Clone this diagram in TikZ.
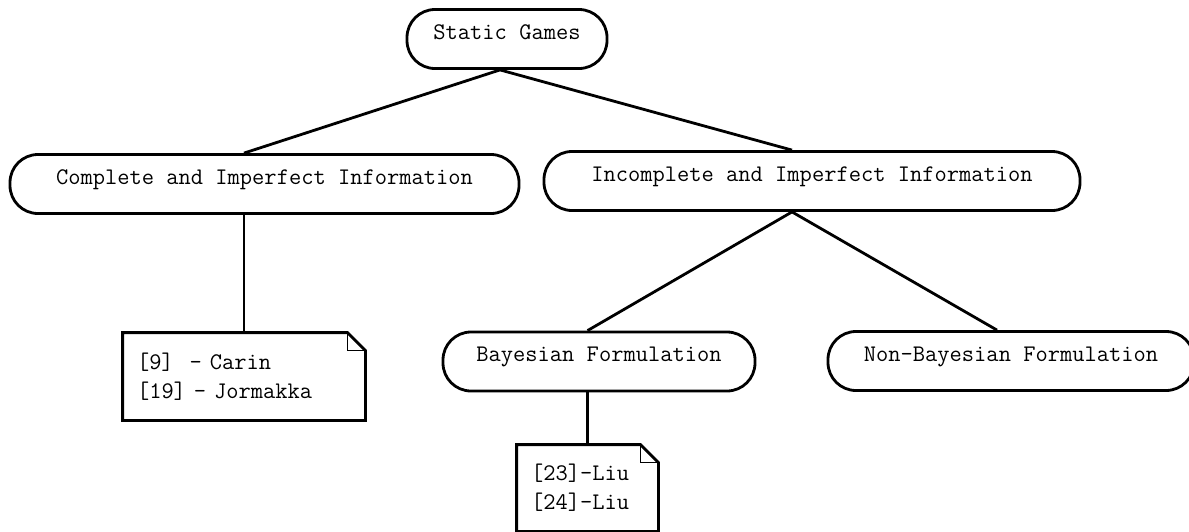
\documentclass[tikz,border=0pt]{standalone}
\usepackage{fontspec}
\begin{document}
\begin{tikzpicture}[x=0.5pt,y=-0.5pt,line width=1.4pt,
                    game/.style={draw,rounded corners=14pt,minimum height=29.5pt,
                                 inner sep=0pt,text height=7pt,text depth=7pt,
                                 font=\ttfamily\fontsize{11.9}{14.5}\selectfont},
                    ref/.style={inner sep=0pt,inner xsep=6.5pt,align=left,
                                font=\ttfamily\fontsize{11.9}{14.5}\selectfont}]
  \useasboundingbox (0,0) rectangle (1189,531);
  \node[game,minimum width=100pt]   (static) at (507,39)    {Static Games};
  \node[game,minimum width=254.5pt] (cinfo)  at (264.5,184) {Complete and Imperfect Information};
  \node[game,minimum width=268pt]   (iinfo)  at (812,181)   {Incomplete and Imperfect Information};
  \node[game,minimum width=156pt]   (bayes)  at (599,361.5) {Bayesian Formulation};
  \node[game,minimum width=183pt]   (nbayes) at (1011,361)  {Non-Bayesian Formulation};
  \node[ref,text width=107pt,minimum height=42.5pt] (cnote) at (244,376.5)
       {[9]\ \ - Carin\\{}[19] - Jormakka};
  \node[ref,text width=56.5pt,minimum height=42pt]  (bnote) at (587.5,488)
       {[23]-Liu\\{}[24]-Liu};
  % dog-eared notes
  \foreach \n in {cnote,bnote} {
    \draw (\n.north west) -- ([xshift=-9pt]\n.north east) -- ([yshift=-9pt]\n.north east)
          -- (\n.south east) -- (\n.south west) -- cycle;
    \draw[line width=0.5pt] ([xshift=-9pt]\n.north east) |- ([yshift=-9pt]\n.north east);
  }
  \draw ([xshift=-3.5pt]static.south) -- (cinfo.north -| cnote.north);
  \draw ([xshift=-3.5pt]static.south) -- ([xshift=-10pt]iinfo.north);
  \draw (cinfo.south -| cnote.north) -- (cnote.north);
  \draw ([xshift=-10pt]iinfo.south) -- (bayes.north -| bnote.north);
  \draw ([xshift=-10pt]iinfo.south) -- ([xshift=-7pt]nbayes.north);
  \draw (bayes.south -| bnote.north) -- (bnote.north);
\end{tikzpicture}
\end{document}
